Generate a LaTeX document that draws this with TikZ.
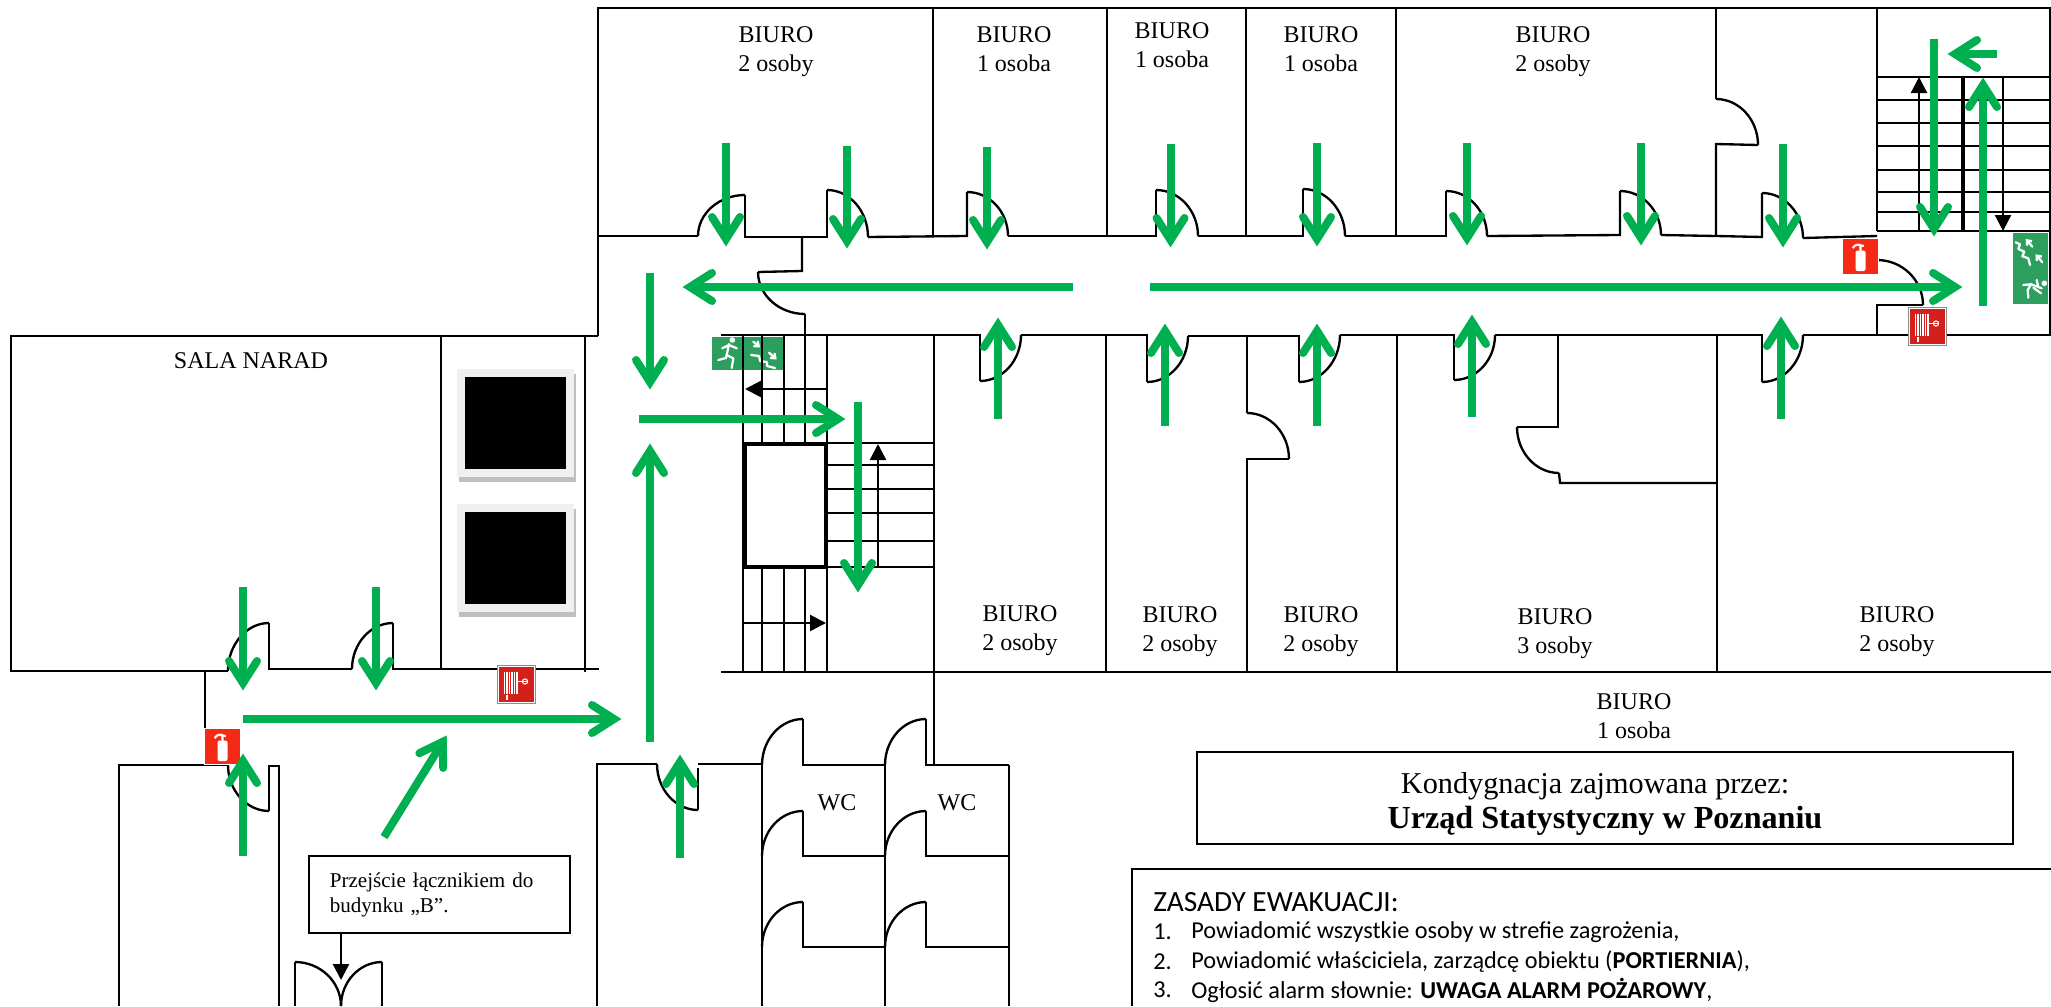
\documentclass[tikz,border=0pt]{standalone}
\usepackage{fontspec}
\setmainfont{Liberation Serif}
\newfontfamily\calfont{Carlito}
\usetikzlibrary{arrows.meta,calc}
\definecolor{gr}{HTML}{00B050}
\definecolor{exitg}{HTML}{2C9E5E}
\definecolor{extred}{HTML}{F52A16}
\definecolor{hosered}{HTML}{D2201C}
\tikzset{
  wall/.style={draw=black,line width=1.75pt,line join=miter},
  thick wall/.style={draw=black,line width=3.4pt},
  blackarrow/.style={draw=black,line width=1.75pt,-{Triangle[length=12pt,width=12pt]}},
  gstem/.style={draw=gr,line width=6pt},
  gbarb/.style={draw=gr,line width=6pt,line cap=round,line join=miter,miter limit=10},
  lab/.style={inner sep=0pt,align=center,font=\fontsize{18}{21.75}\selectfont},
  signline/.style={draw=white,line width=1.7pt,line cap=round,line join=round},
  tlab/.style={inner sep=0pt,anchor=base},
  rule/.style={anchor=west,inner sep=0pt,font=\calfont\fontsize{18.2}{22}\selectfont},
}
\newcommand\door[4]{\pgfmathsetmacro\cxa{#1+.55*(#3-#1)}\pgfmathsetmacro\cya{#4-.55*(#4-#2)}\draw[wall] (#1,#2) .. controls (\cxa,#2) and (#3,\cya) .. (#3,#4);}
\newcommand\garrow[4]{\pgfmathsetmacro\gang{atan2(#2-#4,#3-#1)}\pgfmathsetmacro\glen{veclen(#3-#1,#4-#2)}%
  \begin{scope}[shift={(#3,#4)},rotate=\gang]
    \draw[gstem] (-\glen,0)--(-8,0);
    \draw[gbarb] (-30,14)--(-8,0)--(-30,-14);
  \end{scope}}
\newcommand\extsign[2]{\begin{scope}[shift={(#1,#2)}]
  \fill[white] (-1.5,-1.5) rectangle (36,36);
  \fill[extred] (0,0) rectangle (34.5,34.5);
  \fill[white,rounded corners=1.5pt] (12.5,11.5) rectangle (22.5,32);
  \draw[white,line width=1.6pt] (17.5,12)--(17.5,6) (17.5,6) .. controls (13,5.5) .. (9.5,9);
  \draw[white,line width=1.6pt] (15,6)--(21,7);
\end{scope}}
\newcommand\hosesign[2]{\begin{scope}[shift={(#1,#2)}]
  \fill[white] (-2,-2) rectangle (36.5,36.5);
  \draw[black!45,line width=.5pt] (-2,-2) rectangle (36.5,36.5);
  \fill[hosered] (0,0) rectangle (34.5,34.5);
  \foreach \hx in {5.5,8,10.5,13,15.5,18}{\draw[white,line width=.8pt] (\hx,4.5)--(\hx,26.5);}
  \draw[white,line width=1pt] (18,14.5)--(23.5,14.5);
  \draw[white,line width=.8pt] (26,14.5) circle (2.6);
  \draw[white,line width=.6pt] (23.4,14.5)--(28.6,14.5);
  \fill[white] (6.5,28) rectangle (8.5,33);
\end{scope}}
\newcommand\roomlab[5]{\node[lab] (#1) at (#2,#3) {BIURO\\\smash{#5 #4}};}
\begin{document}
\begin{tikzpicture}[x=.75pt,y=-.75pt]
\useasboundingbox (0,0) rectangle (2051,1006);
\fill[white] (0,0) rectangle (2051,1006);
% left exit sign (under stair lines)
\fill[exitg] (712,337) rectangle (783,370);
\fill[white] (732.3,340) circle (2.8);
\draw[signline] (729,344)--(726.7,355)--(726,358)--(718.3,360);
\draw[signline] (726.7,355)--(733.3,358.3)--(731.7,368);
\draw[signline] (722.3,348.3)--(729,345)--(736.7,348.3);
\draw[signline] (751,355)--(759,356)--(760,361)--(767,362)--(767,366)--(775,368);
\draw[signline,-{Straight Barb[length=3pt,width=5pt]}] (753.3,341.7)--(760,347.3);
\draw[signline,-{Straight Barb[length=3pt,width=5pt]}] (769,352.7)--(776.7,359.3);
% outer top
\draw[wall] (598,336)--(598,8)--(2050,8)--(2050,336);
\draw[wall] (933,8)--(933,237);
\draw[wall] (1107,8)--(1107,236);
\draw[wall] (1246,8)--(1246,236);
\draw[wall] (1396,8)--(1396,236);
\draw[wall] (1716,8)--(1716,99);
\door{1716}{99}{1758}{145}
\draw[wall] (1758,145)--(1716,144)--(1716,236);
\draw[wall] (1877,8)--(1877,231);
% upper corridor wall and doors
\draw[wall] (598,236)--(698,236);
\door{745}{195}{698}{236}
\draw[wall] (745,195)--(745,237)--(827,237)--(827,190);
\door{827}{190}{868}{237}
\draw[wall] (868,237)--(967,236)--(967,192);
\door{967}{192}{1008}{236}
\draw[wall] (1008,236)--(1156,236)--(1156,190);
\door{1156}{190}{1198}{236}
\draw[wall] (1198,236)--(1303,236)--(1303,189);
\door{1303}{189}{1345}{236}
\draw[wall] (1345,236)--(1446,236)--(1446,191);
\door{1446}{191}{1487}{236}
\draw[wall] (1487,236)--(1620,235)--(1620,191);
\door{1620}{191}{1661}{235}
\draw[wall] (1661,235)--(1716,236)--(1762,237)--(1762,193);
\door{1762}{193}{1803}{238}
\draw[wall] (1803,238)--(1877,236);
% corridor door at left
\draw[wall] (802,237)--(802,271)--(758,272);
\door{805}{314}{758}{272}
\draw[wall] (805,314)--(805,336);
% corridor end door
\door{1877}{260}{1923}{305}
\draw[wall] (1923,305)--(1877,305)--(1877,335);
% upper right stairs
\foreach \sy in {77,100,123,146,170,192,212}{\draw[wall] (1877,\sy)--(2050,\sy);}
\draw[wall] (1877,231)--(2050,231);
\draw[thick wall] (1963,77)--(1963,231);
\draw[blackarrow] (1919,231)--(1919,77);
\draw[blackarrow] (2003,77)--(2003,231);
% lower corridor wall
\draw[wall] (721,335)--(980,335)--(980,381);
\door{980}{381}{1021}{335}
\draw[wall] (1021,335)--(1147,335)--(1147,382);
\door{1147}{382}{1188}{336}
\draw[wall] (1188,336)--(1299,336)--(1299,382);
\door{1299}{382}{1340}{335}
\draw[wall] (1340,335)--(1454,335)--(1454,380);
\door{1454}{380}{1495}{335}
\draw[wall] (1495,335)--(1762,335)--(1762,382);
\door{1762}{382}{1803}{335}
\draw[wall] (1803,335)--(2050,335);
% lower offices
\draw[wall] (721,672)--(2051,672);
\draw[wall] (934,335)--(934,765);
\draw[wall] (1106,335)--(1106,673);
\draw[wall] (1247,335)--(1247,413);
\door{1247}{413}{1289}{459}
\draw[wall] (1289,459)--(1247,459)--(1247,672);
\draw[wall] (1397,335)--(1397,672);
\draw[wall] (1558,335)--(1558,427)--(1517,427);
\door{1559}{473}{1517}{427}
\draw[wall] (1559,473)--(1560,483)--(1717,483);
\draw[wall] (1717,335)--(1717,673);
% central stairs
\foreach \sx in {743,762,784,805,827}{\draw[wall] (\sx,335)--(\sx,672);}
\foreach \sy in {443,465,489,513,541,567}{\draw[wall] (827,\sy)--(934,\sy);}
\draw[thick wall,fill=white] (745,444) rectangle (826,567);
\draw[blackarrow] (827,389)--(745,389);
\draw[blackarrow] (743,623)--(826,623);
\draw[blackarrow] (878,567)--(878,444);
% meeting room
\draw[wall] (598,336)--(11,336)--(11,671)--(228,671);
\draw[wall] (441,336)--(441,669);
\draw[wall] (585,336)--(585,672);
\door{269}{623}{228}{671}
\draw[wall] (269,623)--(269,669)--(352,669);
\door{393}{623}{352}{669}
\draw[wall] (393,623)--(393,669)--(599,669);
\draw[wall] (205,671)--(205,729);
% lift shafts
\fill[black!25] (459,374) rectangle (576,482);
\fill[black!6] (457,369) rectangle (574,477);
\fill[black] (465,377) rectangle (566,469);
\fill[black!25] (459,509) rectangle (576,617);
\fill[black!6] (457,504) rectangle (574,612);
\fill[black] (465,512) rectangle (566,604);
% lower left room
\draw[wall] (119,1006)--(119,765)--(228,765);
\door{269}{811}{228}{765}
\draw[wall] (269,811)--(269,766)--(279,766)--(279,1006);
% room with door at lower middle
\draw[wall] (597,1006)--(597,764)--(657,764);
\door{698}{810}{657}{764}
\draw[wall] (698,810)--(698,768);
\draw[wall] (698,764)--(762,764);
% WC block
\draw[wall] (762,764)--(762,1006);
\draw[wall] (885,765)--(885,1006);
\draw[wall] (1009,765)--(1009,1006);
\foreach \ry/\rt in {765/719,856/811,947/902}{
  \door{803}{\rt}{762}{\ry}
  \door{926}{\rt}{885}{\ry}
  \draw[wall] (803,\rt)--(803,\ry)--(885,\ry);
  \draw[wall] (926,\rt)--(926,\ry)--(1009,\ry);
}
% double door
\door{295}{962}{341}{1006}
\door{382}{962}{341}{1006}
\draw[wall] (295,962)--(295,1006);
\draw[wall] (382,962)--(382,1006);
% signs
\extsign{1843}{239}
\hosesign{1910}{309}
\extsign{205}{729}
\hosesign{499}{667}
% right exit sign
\fill[white] (2012,232) rectangle (2049,305);
\fill[exitg] (2013,233) rectangle (2048,304);
\draw[signline] (2015.7,242.3)--(2020,244.3)--(2018.3,249)--(2024.3,251.7)--(2022.3,256.3)--(2028.3,258.3)--(2030,265);
\draw[signline,-{Straight Barb[length=3pt,width=5pt]}] (2032.3,246.7)--(2025.7,239);
\draw[signline,-{Straight Barb[length=3pt,width=5pt]}] (2042.3,262.3)--(2035.7,254.3);
\fill[white] (2044.3,283.3) circle (2.8);
\draw[signline] (2023.3,285)--(2031,284.3)--(2041.7,288.3);
\draw[signline] (2031,284.3)--(2027.7,290)--(2028.3,297.7);
\draw[signline] (2033.3,287.7)--(2041,293.3);
\draw[signline] (2036.7,280)--(2038,286);
% green arrows: office doors going down
\garrow{726}{143}{726}{247}
\garrow{847}{146}{847}{249}
\garrow{987}{147}{987}{250}
\garrow{1170.5}{144}{1170.5}{248}
\garrow{1317}{143}{1317}{247}
\garrow{1467}{143}{1467}{246}
\garrow{1641}{143}{1641}{246}
\garrow{1783}{144}{1783}{248}
% main corridor
\garrow{1073}{287}{682}{287}
\garrow{1150}{287}{1963}{287}
% stairs top right
\garrow{1934}{39}{1934}{237}
\garrow{1997}{54}{1947}{54}
\garrow{1983}{306}{1983}{77}
% lower doors up
\garrow{998}{419}{998}{317}
\garrow{1165}{426}{1165}{323}
\garrow{1317}{426}{1317}{323}
\garrow{1472}{417}{1472}{314}
\garrow{1781}{419}{1781}{316}
% central
\garrow{650}{273}{650}{390}
\garrow{639}{419}{846}{419}
\garrow{650}{742}{650}{443}
\garrow{858}{402}{858}{593}
% lower left
\garrow{243}{587}{243}{691}
\garrow{376}{587}{376}{691}
\garrow{243}{719}{622}{719}
\garrow{243}{856}{243}{753}
\garrow{384}{837}{447}{735}
\garrow{680}{858}{680}{754}
% labels
\roomlab{t1}{776}{49}{osoby}{2}
\roomlab{t2}{1014}{49}{osoba}{1}
\roomlab{t3}{1172}{45}{osoba}{1}
\roomlab{t4}{1321}{49}{osoba}{1}
\roomlab{t5}{1553}{49}{osoby}{2}
\roomlab{b1}{1020}{628.5}{osoby}{2}
\roomlab{b2}{1180}{629.5}{osoby}{2}
\roomlab{b3}{1321}{629.5}{osoby}{2}
\roomlab{b4}{1555}{631.5}{osoby}{3}
\roomlab{b5}{1897}{629.5}{osoby}{2}
\roomlab{b6}{1634}{716.5}{osoba}{1}
\node[lab] (sala) at (251,361) {SALA NARAD};
\node[lab] (wc1) at (837,803) {WC};
\node[lab] (wc2) at (957,803) {WC};
% text box with leader
\node[draw=black,line width=1.75pt,anchor=north west,inner sep=0pt,minimum width=195.5pt,minimum height=57.75pt,text width=195.5pt,align=left,font=\fontsize{15.8}{18.75}\selectfont] (lacz) at (308,855) {\hspace*{15.5pt}Przejście łącznikiem do\\\hspace*{15.5pt}budynku „B”.};
\coordinate (dd) at (341,980);
\draw[blackarrow] (lacz.south -| dd)--(dd);
% title box
\node[draw=black,line width=1.75pt,anchor=north west,inner sep=0pt,minimum width=612pt,minimum height=69pt] (tyt) at (1196,751) {};
\node[tlab,font=\fontsize{22.7}{26}\selectfont] (tyt1) at (1595,793) {Kondygnacja zajmowana przez:};
\node[tlab,font=\fontsize{24.1}{26}\selectfont\bfseries] (tyt2) at (1605,828) {Urząd Statystyczny w Poznaniu};
% rules box
\draw[wall] (2051,869)--(1132,869)--(1132,1006);
\node[anchor=west,inner sep=0pt,font=\calfont\fontsize{22}{24}\selectfont] (zas) at (1153,902) {ZASADY EWAKUACJI:};
\node[rule] (n1) at (1153,932) {1.};
\node[rule] (l1) at (1191,932) {Powiadomić wszystkie osoby w strefie zagrożenia,};
\node[rule] (n2) at (1153,962) {2.};
\node[rule] (l2) at (1191,962) {Powiadomić właściciela, zarządcę obiektu (\textbf{PORTIERNIA}),};
\node[rule] (n3) at (1153,990) {3.};
\node[rule] (l3) at (1191,990) {Ogłosić alarm słownie: \textbf{UWAGA ALARM POŻAROWY},};
\end{tikzpicture}
\end{document}
